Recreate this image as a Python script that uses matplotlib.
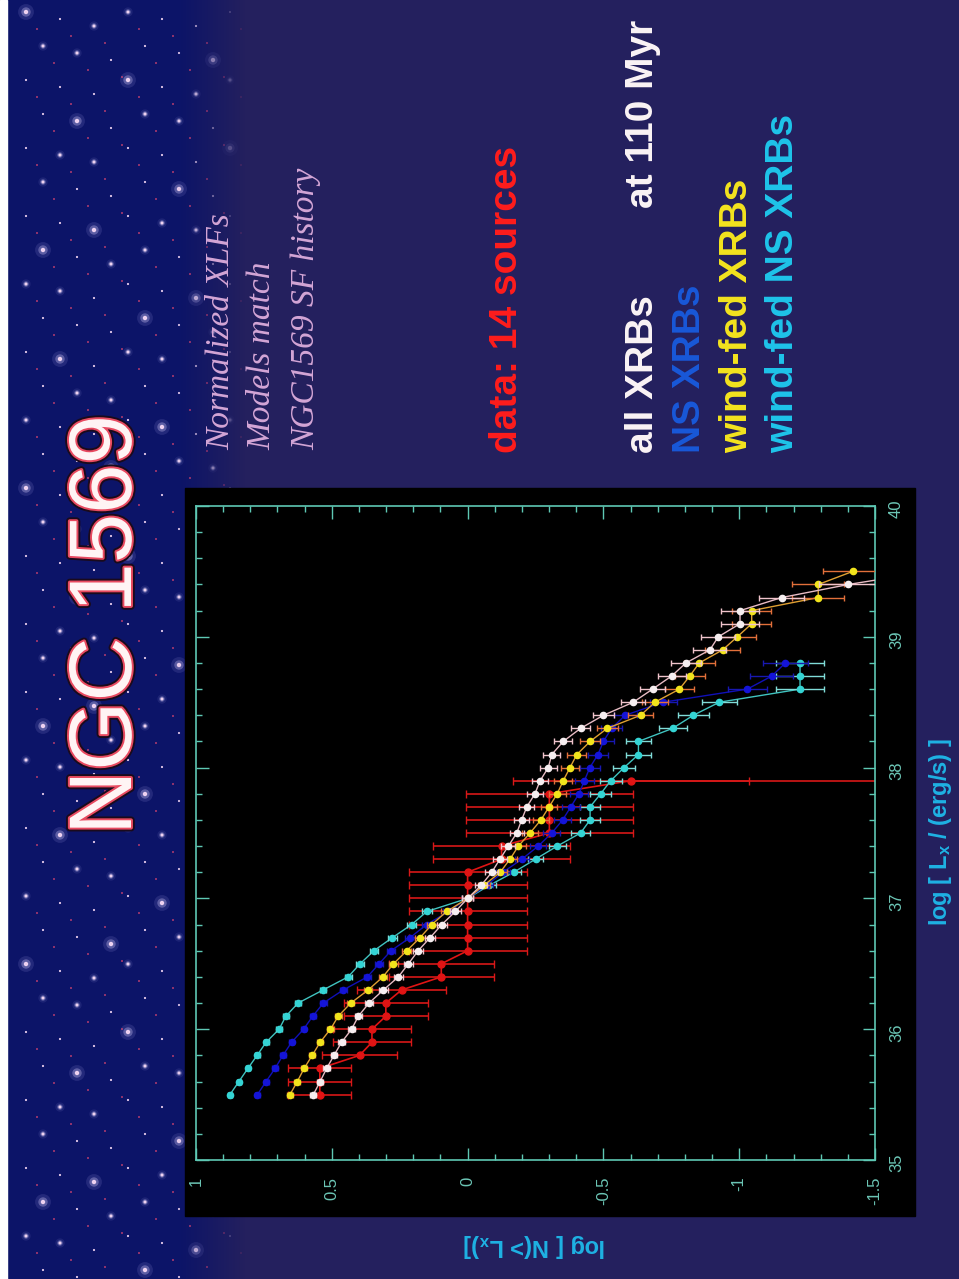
import numpy as np
import matplotlib
matplotlib.use("Agg")
import matplotlib.pyplot as plt
import matplotlib.patheffects as pe
from matplotlib.patches import Rectangle
from matplotlib.ticker import MultipleLocator, FuncFormatter

plt.rcParams['axes.unicode_minus'] = False
plt.rcParams['mathtext.fontset'] = 'custom'
plt.rcParams['mathtext.rm'] = 'Liberation Sans:bold'
plt.rcParams['mathtext.it'] = 'Liberation Sans:bold'

# luminosity bins, log Lx (erg/s)
lx = np.round(np.arange(35.5, 39.55, 0.1), 1)

# model XLFs, log N(>Lx), normalised at 1e37 erg/s
all_xrb = [0.568, 0.543, 0.519, 0.492, 0.464, 0.427, 0.402, 0.363, 0.310, 0.255,
           0.218, 0.182, 0.138, 0.095, 0.045, 0.0, -0.05, -0.089, -0.119, -0.150,
           -0.181, -0.199, -0.218, -0.248, -0.267, -0.297, -0.310, -0.352, -0.416, -0.500,
           -0.610, -0.681, -0.751, -0.804, -0.892, -0.923, -1.003, -1.003, -1.156, -1.402,
           -1.70]
wind_xrb = [0.654, 0.627, 0.602, 0.572, 0.543, 0.505, 0.476, 0.430, 0.366, 0.312,
            0.273, 0.224, 0.175, 0.132, 0.077, 0.0, -0.06, -0.12, -0.156, -0.187,
            -0.23, -0.27, -0.30, -0.33, -0.352, -0.377, -0.402, -0.451, -0.514, -0.637,
            -0.690, -0.780, -0.818, -0.853, -0.939, -0.993, -1.046, -1.046, -1.291, -1.291,
            -1.418]
ns_xrb = [0.774, 0.742, 0.709, 0.680, 0.648, 0.604, 0.570, 0.531, 0.458, 0.369,
          0.326, 0.282, 0.212, 0.151, 0.07, 0.0, -0.07, -0.13, -0.20, -0.26,
          -0.31, -0.35, -0.38, -0.41, -0.43, -0.45, -0.48, -0.50, -0.53, -0.58,
          -0.72, -1.03, -1.12, -1.17, np.nan, np.nan, np.nan, np.nan, np.nan, np.nan,
          np.nan]
wind_ns_xrb = [0.875, 0.842, 0.809, 0.775, 0.742, 0.694, 0.669, 0.624, 0.532, 0.440,
               0.396, 0.345, 0.277, 0.206, 0.15, 0.0, -0.08, -0.17, -0.25, -0.33,
               -0.416, -0.451, -0.451, -0.490, -0.527, -0.576, -0.629, -0.629, -0.755, -0.831,
               -0.927, -1.224, -1.224, -1.224, np.nan, np.nan, np.nan, np.nan, np.nan, np.nan,
               np.nan]
model_scale = 400  # model counts at the normalisation point

# observed cumulative counts (14 sources), normalised to the count at 1e37
data_lx = lx[:25]
data_counts = np.array([14, 14, 14, 10, 9, 9, 8, 8, 7, 5, 5, 4, 4, 4, 4, 4, 4, 4,
                        3, 3, 2, 2, 2, 2, 1])
data_norm = 4

ax_col = '#5ec8b4'

fig = plt.figure(figsize=(9.59, 12.79), dpi=100)

# slide background
bg = fig.add_axes([0, 0, 1, 1])
bg.set_xlim(0, 959)
bg.set_ylim(1279, 0)
bg.axis('off')

left_c = np.array([12, 20, 104]) / 255
right_c = np.array([36, 32, 94]) / 255
xs = np.arange(959)
w = np.clip((xs - 180) / 65.0, 0, 1)[:, None]
row = left_c * (1 - w) + right_c * w
bg.imshow(row[None, :, :], extent=(0, 959, 1279, 0), aspect='auto', zorder=0)
bg.add_patch(Rectangle((0, 0), 7, 1279, color='white', zorder=1))

# star field on the left strip
sx, sy, ss = [], [], []
for r in range(38):
    for c in range(7):
        x = 26 + c * 34 + (r % 2) * 17
        y = 12 + r * 34 + (c % 3) * 7
        if x > 240:
            continue
        sx.append(x)
        sy.append(y)
        ss.append((r * 3 + c * 5) % 7)
sx = np.array(sx)
sy = np.array(sy)
ss = np.array(ss)
fade = np.clip((245 - sx) / 70.0, 0, 1)
big = ss == 0
mid = (ss == 1) | (ss == 3)
small = (ss == 2) | (ss > 3)
for mask, glow, core, ga in [(big, 130, 10, 0.16), (mid, 45, 5, 0.12), (small, 12, 2.5, 0.0)]:
    if ga > 0:
        bg.scatter(sx[mask], sy[mask], s=glow, c=[(0.62, 0.6, 0.88, ga * a) for a in fade[mask]],
                   lw=0, zorder=2)
        bg.scatter(sx[mask], sy[mask], s=glow * 0.35, c=[(0.8, 0.76, 0.95, 0.35 * a) for a in fade[mask]],
                   lw=0, zorder=2)
    bg.scatter(sx[mask], sy[mask], s=core, c=[(1, 0.88, 0.98, 0.9 * a) for a in fade[mask]],
               lw=0, zorder=3)
# tiny red specks between the stars
bg.scatter(sx + 11, sy + 17, s=2, c=[(1, 0.3, 0.45, 0.7 * a) for a in fade], lw=0, zorder=3)

# black plot panel
bg.add_patch(Rectangle((185, 488), 730, 728, color='black', zorder=4))

# title and captions
bg.text(108, 625, 'NGC 1569', rotation=90, ha='center', va='center',
        fontsize=64, family='Liberation Sans', color='#fff4f4', zorder=5,
        path_effects=[pe.Stroke(linewidth=5.5, foreground='#1a0a1c'),
                      pe.Stroke(linewidth=2.8, foreground='#e84a60'),
                      pe.Normal()])

serif_kw = dict(rotation=90, rotation_mode='anchor', ha='left', va='baseline',
                fontsize=24, family='Liberation Serif', style='italic',
                color='#d4a6d6', zorder=5)
bg.text(229, 450, 'Normalized XLFs', **serif_kw)
bg.text(270, 450, 'Models match', **serif_kw)
bg.text(314, 450, 'NGC1569 SF history', **serif_kw)

bold_kw = dict(rotation=90, rotation_mode='anchor', ha='left', va='baseline',
               fontsize=28, family='Liberation Sans', weight='bold', zorder=5)
bg.text(517, 453, 'data: 14 sources', color='#ff1c1c', **bold_kw)
bg.text(653, 453, 'all XRBs', color='#fbf4f6', **bold_kw)
bg.text(653, 208, 'at 110 Myr', color='#fbf4f6', **bold_kw)
bg.text(700, 453, 'NS XRBs', color='#1858d8', **bold_kw)
bg.text(747, 453, 'wind-fed XRBs', color='#f4e41e', **bold_kw)
bg.text(793, 453, 'wind-fed NS XRBs', color='#1ec4ea', **bold_kw)

lab_kw = dict(ha='center', va='center', fontsize=17, family='Liberation Sans',
              weight='bold', color='#1eb2e4', zorder=5)
bg.text(941, 832, r'log [ L$_x$ / (erg/s) ]', rotation=90, **lab_kw)
bg.text(535, 1245, r'log [ N(> L$_x$)]', rotation=180, **lab_kw)

# XLF panel: log N runs left to right (decreasing), log Lx bottom to top
ax = fig.add_axes([196 / 959, 119 / 1279, 679 / 959, 654 / 1279])
ax.set_facecolor('black')
ax.set_xlim(1, -1.5)
ax.set_ylim(35, 40)

d_logn = np.log10(data_counts / data_norm)
d_err = 0.434 / np.sqrt(data_counts)
ax.errorbar(d_logn, data_lx, xerr=d_err, color='#e01414', ecolor='#d81818',
            marker='o', ms=5, lw=1.2, elinewidth=1.2, capsize=3, zorder=2)
ax.hlines(data_lx[-1], ax.get_xlim()[1], d_logn[-1], color='#d81818', lw=1.2, zorder=2)

models = [
    (wind_ns_xrb, '#34d4d4', '#40c4c0', '#80dcd8'),
    (ns_xrb, '#1414d8', '#1010b8', '#1818b0'),
    (wind_xrb, '#f2e41c', '#e0a032', '#e2703a'),
    (all_xrb, '#f6eef0', '#e8bcc4', '#f0c4cc'),
]
for i, (vals, mc, lc, ec) in enumerate(models):
    v = np.array(vals, dtype=float)
    err = 0.434 / np.sqrt(model_scale * 10 ** v)
    ax.plot(v, lx, color=lc, lw=1.0, zorder=3 + i)
    ax.errorbar(v, lx, xerr=err, fmt='o', color=mc, ecolor=ec, ms=4.5, mec=mc,
                elinewidth=1.0, capsize=2.5, zorder=3 + i)

for s in ax.spines.values():
    s.set_color(ax_col)
    s.set_linewidth(1.2)
ax.xaxis.set_major_locator(MultipleLocator(0.5))
ax.xaxis.set_minor_locator(MultipleLocator(0.1))
ax.yaxis.set_major_locator(MultipleLocator(1))
ax.yaxis.set_minor_locator(MultipleLocator(0.2))
ax.xaxis.set_major_formatter(FuncFormatter(lambda v, p: '%g' % v))
ax.yaxis.set_major_formatter(FuncFormatter(lambda v, p: '%g' % v))
ax.tick_params(which='both', direction='in', top=True, bottom=True, left=True,
               right=True, color=ax_col, labelcolor='#6cc6b6', width=1)
ax.tick_params(which='major', length=9)
ax.tick_params(which='minor', length=4)
ax.tick_params(axis='x', labelrotation=90, labelsize=12, pad=12)
ax.tick_params(axis='y', labelleft=False, labelright=True, labelrotation=90,
               labelsize=12, pad=10)
for t in ax.get_xticklabels() + ax.get_yticklabels():
    t.set_family('Liberation Sans')

fig.savefig('out.png', dpi=100, facecolor=fig.get_facecolor())
